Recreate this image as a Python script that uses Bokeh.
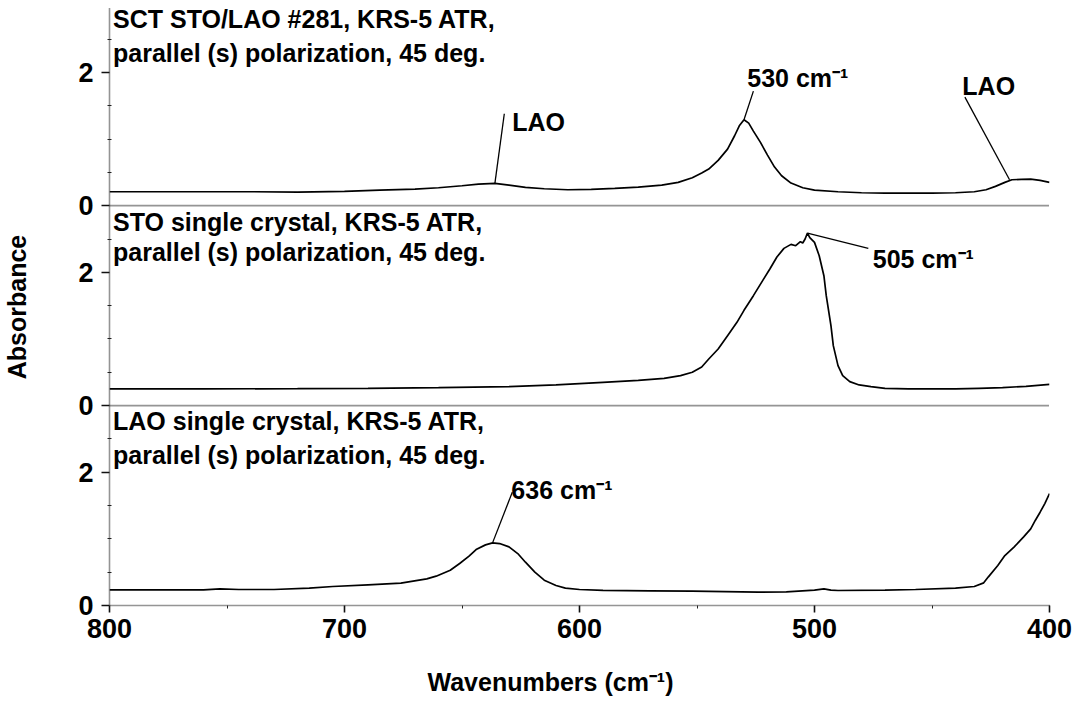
from bokeh.plotting import figure
from bokeh.models import Range1d, FixedTicker, Span, ColumnDataSource, Title
from bokeh.transform import dodge
from bokeh.core.properties import value
from bokeh.embed import file_html
from bokeh.resources import INLINE

# ---------------- data ----------------
# panel vertical offsets (each panel spans 3 absorbance units)
off_top, off_mid, off_bot = 6.0, 3.0, 0.0

# SCT STO/LAO #281
sct_wn = [800, 780, 760, 740, 720, 700, 685, 670, 660, 650, 643, 636, 630, 623, 615, 605, 595,
          585, 575, 565, 558, 552, 548, 545, 541, 537, 534, 532, 530, 528, 526, 523, 520, 517,
          514, 510, 505, 500, 490, 480, 470, 460, 450, 440, 432, 427, 423, 419, 416, 412, 408, 404, 400]
sct_ab = [0.21, 0.21, 0.21, 0.21, 0.205, 0.215, 0.235, 0.25, 0.27, 0.30, 0.325, 0.335, 0.31, 0.275,
          0.255, 0.24, 0.245, 0.26, 0.28, 0.31, 0.35, 0.42, 0.49, 0.55, 0.68, 0.85, 1.05, 1.20, 1.29,
          1.24, 1.12, 0.95, 0.76, 0.58, 0.45, 0.34, 0.27, 0.235, 0.21, 0.195, 0.19, 0.19, 0.19, 0.195,
          0.21, 0.24, 0.29, 0.35, 0.39, 0.395, 0.40, 0.38, 0.35]

# STO single crystal
sto_wn = [800, 760, 720, 690, 660, 630, 610, 590, 575, 564, 557, 552, 548, 545, 541, 537, 533, 530,
          526, 522, 519, 516, 513, 510, 508, 506, 505, 504, 503, 502, 500, 498, 496, 495, 493, 492,
          490, 488, 485, 481, 476, 470, 460, 450, 440, 430, 420, 410, 400]
sto_ab = [0.25, 0.25, 0.255, 0.26, 0.27, 0.285, 0.31, 0.35, 0.38, 0.41, 0.45, 0.50, 0.58, 0.70, 0.85,
          1.05, 1.25, 1.43, 1.65, 1.88, 2.05, 2.23, 2.36, 2.42, 2.40, 2.46, 2.44, 2.50, 2.59, 2.52,
          2.45, 2.25, 1.95, 1.65, 1.20, 0.90, 0.60, 0.45, 0.36, 0.31, 0.285, 0.26, 0.25, 0.25, 0.25,
          0.26, 0.27, 0.29, 0.32]

# LAO single crystal
lao_wn = [800, 780, 760, 753, 745, 730, 715, 705, 690, 676, 665, 661, 655, 651, 647, 644, 640, 637,
          634, 630, 626, 623, 619, 615, 610, 606, 600, 590, 570, 552, 524, 512, 500, 496, 493, 490,
          470, 457, 440, 432, 428, 426, 422, 419, 415, 411, 408, 406, 404, 402, 400]
lao_ab = [0.235, 0.235, 0.235, 0.25, 0.24, 0.24, 0.26, 0.285, 0.31, 0.335, 0.40, 0.44, 0.53, 0.63,
          0.74, 0.84, 0.91, 0.94, 0.93, 0.88, 0.77, 0.65, 0.50, 0.38, 0.30, 0.26, 0.24, 0.226, 0.22,
          0.215, 0.20, 0.205, 0.23, 0.25, 0.23, 0.225, 0.23, 0.24, 0.26, 0.285, 0.34, 0.43, 0.60,
          0.75, 0.88, 1.03, 1.15, 1.28, 1.40, 1.53, 1.68]

# panel captions
cap_line1 = ["SCT STO/LAO #281, KRS-5 ATR,", "STO single crystal, KRS-5 ATR,", "LAO single crystal, KRS-5 ATR,"]
cap_line2 = ["parallel (s) polarization, 45 deg."] * 3
cap_y1 = [2.80, 2.76, 2.77]
cap_y2 = [2.29, 2.31, 2.26]
cap_wn = 798.5

# peak annotations: label text, label position, leader line (from peak to label)
ann_text = ["LAO", "530 cm\u207b\u00b9", "LAO", "505 cm\u207b\u00b9", "636 cm\u207b\u00b9"]
ann_off = [off_top, off_top, off_top, off_mid, off_bot]
ann_x = [628.6, 528.6, 437.1, 475.2, 629.0]
ann_y = [1.26, 1.91, 1.80, 2.20, 1.74]
lead_x0 = [636.0, 530.0, 417.0, 503.0, 637.0]
lead_y0 = [0.335, 1.29, 0.39, 2.59, 0.94]
lead_x1 = [632.0, 526.0, 436.0, 477.1, 628.6]
lead_y1 = [1.38, 1.72, 1.63, 2.36, 1.70]

y_major = [0, 2, 3, 5, 6, 8]
y_major_labels = ["0", "2", "0", "2", "0", "2"]
y_minor = [0.5, 1, 1.5, 2.5, 3.5, 4, 4.5, 5.5, 6.5, 7, 7.5, 8.5]
x_major = [800, 700, 600, 500, 400]
x_minor = [750, 650, 550, 450]
x_title = "Wavenumbers (cm\u207b\u00b9)"
y_title = "Absorbance"

# ---------------- figure ----------------
FONT = "Liberation Sans"

p = figure(frame_width=940, frame_height=597,
           x_range=Range1d(800, 400), y_range=Range1d(0, 8.96),
           min_border_left=109, min_border_right=30, min_border_top=8, min_border_bottom=108,
           output_backend="svg", toolbar_location=None)
p.outline_line_color = None
p.xgrid.visible = False
p.ygrid.visible = False
p.background_fill_color = "white"
p.border_fill_color = "white"

for ax in (p.xaxis[0], p.yaxis[0]):
    ax.axis_line_color = "#2a2a2a"
    ax.axis_line_width = 1.6
    ax.axis_line_dash = "1 1"
    ax.major_tick_line_color = "#111111"
    ax.minor_tick_line_color = "#222222"
    ax.major_tick_line_width = 1.6
    ax.major_label_text_font = FONT
    ax.major_label_text_font_style = "bold"
    ax.major_label_text_font_size = "27px"
    ax.major_label_text_color = "black"
    ax.axis_label_text_font = FONT
    ax.axis_label_text_font_style = "bold"
    ax.axis_label_text_font_size = "25px"
    ax.axis_label_text_color = "black"

p.yaxis.ticker = FixedTicker(ticks=y_major, minor_ticks=y_minor)
p.yaxis.major_label_overrides = {t: l for t, l in zip(y_major, y_major_labels)}
p.yaxis.major_tick_out = 8
p.yaxis.major_tick_in = 0
p.yaxis.minor_tick_out = 2
p.yaxis.minor_tick_in = 2
p.yaxis.major_label_standoff = 8
p.yaxis.axis_label = y_title
p.yaxis.axis_label_standoff = 44

p.xaxis.ticker = FixedTicker(ticks=x_major, minor_ticks=x_minor)
p.xaxis.major_tick_out = 7
p.xaxis.major_tick_in = 0
p.xaxis.minor_tick_out = 3
p.xaxis.minor_tick_in = 0
p.xaxis.major_label_standoff = 6

p.add_layout(Title(text=x_title, align="left", offset=318, standoff=50,
                   text_font=FONT, text_font_style="bold", text_font_size="25px",
                   text_color="black"), "below")

for loc in (off_mid, off_top):
    p.add_layout(Span(location=loc, dimension="width", line_color="#2a2a2a",
                      line_width=1.8, line_dash="1 1"))

# spectra
for wn, ab, off in ((sct_wn, sct_ab, off_top), (sto_wn, sto_ab, off_mid), (lao_wn, lao_ab, off_bot)):
    src = ColumnDataSource(dict(wn=wn, ab=ab))
    p.line(x="wn", y=dodge("ab", off), source=src, line_color="black", line_width=1.7)

# captions
cap_off = [off_top, off_mid, off_bot] * 2
cap_src = ColumnDataSource(dict(
    x=[cap_wn] * 6,
    y=[y + o for y, o in zip(cap_y1 + cap_y2, cap_off)],
    t=cap_line1 + cap_line2,
))
p.text(x="x", y="y", text="t", source=cap_src, text_font=value(FONT), text_font_style="bold",
       text_font_size="25px", text_align="left", text_baseline="middle", text_color="black")

# leader lines and peak labels
lead_src = ColumnDataSource(dict(
    x0=lead_x0, x1=lead_x1,
    y0=[y + o for y, o in zip(lead_y0, ann_off)],
    y1=[y + o for y, o in zip(lead_y1, ann_off)],
))
p.segment(x0="x0", y0="y0", x1="x1", y1="y1", source=lead_src, line_color="black", line_width=1.3)

ann_src = ColumnDataSource(dict(x=ann_x, y=[y + o for y, o in zip(ann_y, ann_off)], t=ann_text))
p.text(x="x", y="y", text="t", source=ann_src, text_font=value(FONT), text_font_style="bold",
       text_font_size="25px", text_align="left", text_baseline="middle", text_color="black")

open("out.html", "w").write(file_html(p, INLINE))
